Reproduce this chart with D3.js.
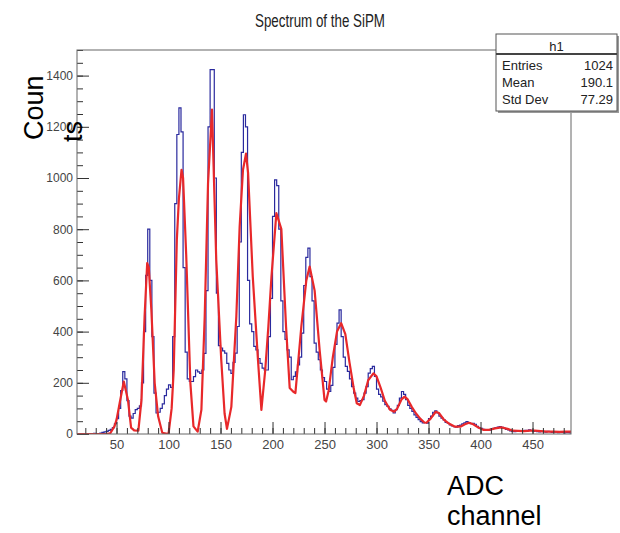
<!DOCTYPE html>
<html>
<head>
<meta charset="utf-8">
<script src="https://cdn.jsdelivr.net/npm/d3@7"></script>
<style>
  body { margin: 0; background: #fff; }
  svg { display: block; }
</style>
</head>
<body>
<svg id="chart" width="620" height="533"></svg>
<script>
// histogram h1: 2-channel bins starting at ADC 12
const binStart = 12;
const binWidth = 2;
const counts = [
  0, 0, 1, 0, 0, 2, 0, 0, 3, 1,
  2, 4, 6, 8, 10, 14, 18, 25, 40, 60,
  100, 170, 244, 215, 130, 70, 62, 80, 95, 100,
  110, 200, 400, 620, 800, 600, 380, 160, 82, 85,
  100, 118, 150, 175, 192, 182, 380, 900, 1170, 1274,
  1180, 650, 320, 215, 205, 205, 224, 250, 243, 237,
  250, 315, 560, 1200, 1423, 1423, 1000, 550, 345, 336,
  325, 316, 276, 250, 237, 280, 316, 420, 750, 1100,
  1247, 1200, 600, 430, 400, 342, 329, 295, 276, 257,
  250, 250, 380, 530, 850, 993, 970, 800, 520, 400,
  370, 329, 300, 212, 225, 243, 270, 300, 394, 580,
  690, 726, 615, 520, 355, 320, 290, 250, 220, 205,
  175, 166, 190, 260, 350, 433, 485, 380, 300, 264,
  245, 215, 185, 160, 140, 127, 130, 134, 160, 185,
  238, 255, 264, 225, 175, 155, 145, 128, 115, 108,
  98, 92, 82, 95, 112, 140, 166, 155, 134, 112,
  100, 88, 75, 65, 56, 48, 43, 45, 42, 60,
  70, 85, 90, 82, 70, 62, 55, 45, 42, 36,
  32, 29, 27, 33, 35, 40, 44, 48, 45, 40,
  42, 38, 30, 24, 22, 18, 16, 17, 15, 20,
  22, 25, 27, 29, 26, 22, 18, 16, 12, 10,
  9, 11, 13, 12, 10, 14, 12, 16, 14, 10,
  12, 9, 8, 10, 9, 7, 10, 9, 6, 8,
  7, 5, 8, 6, 4, 6, 5, 4
];

// fitted curve (red)
const fitX = [12, 40, 44, 48, 50, 53, 57, 61, 64, 67, 71, 74, 77, 79.5, 81, 83.5, 86.7, 90, 94, 100,
  103, 105, 108, 110, 112.5, 114, 117, 121, 124, 128, 131.6, 134.8, 138, 141.8, 145.9, 150.7, 153.9, 156.2, 160.4, 165.2,
  168.4, 171.6, 174.5, 176.5, 181, 186, 189.3, 193, 196, 199, 203.7, 208.5, 213, 216.5, 220, 222, 227.7, 232.5, 235.7, 240.5,
  245.3, 250, 251.5, 254, 258, 262, 266, 270, 274, 278, 281, 284, 288, 292, 297, 300, 304, 308, 313, 317,
  320, 324, 327, 330, 334, 338, 342, 346, 348, 352, 357, 360, 365, 370, 375, 381, 385, 389, 393, 398,
  403, 408, 414, 420, 426, 431, 436, 442, 448, 452, 458, 464, 470, 476, 482, 487];
const fitY = [0, 0, 3, 30, 55, 120, 205, 133, 25, 14, 13, 133, 459, 668, 650, 485, 199, 69, 5, 0,
  100, 250, 760, 920, 1032, 1000, 700, 200, 30, 9, 94, 459, 980, 1267, 680, 290, 80, 20, 106, 459,
  810, 1032, 1095, 1020, 615, 290, 94, 250, 420, 615, 863, 800, 420, 180, 165, 160, 420, 600, 654, 560,
  328, 133, 127, 170, 300, 400, 433, 390, 280, 180, 120, 113, 150, 210, 237, 225, 180, 130, 95, 87,
  100, 135, 146, 135, 105, 80, 60, 45, 44, 60, 87, 82, 55, 40, 29, 29, 38, 44, 38, 25,
  16, 16, 22, 26, 20, 13, 12, 11, 13, 13, 11, 9, 9, 8, 9, 9];

const xDomain = [12, 487];
const yDomain = [0, 1500];
const xTicks = [50, 100, 150, 200, 250, 300, 350, 400, 450];
const yTicks = [0, 200, 400, 600, 800, 1000, 1200, 1400];
const statLabels = ["Entries", "Mean", "Std Dev"];
const statValues = ["1024", "190.1", "77.29"];

const narrow = "'Liberation Sans Narrow', 'Arial Narrow', 'Liberation Sans', sans-serif";
const svg = d3.select("#chart");
const frame = { left: 77, right: 571, top: 50, bottom: 434 };

const x = d3.scaleLinear().domain(xDomain).range([frame.left, frame.right]);
const y = d3.scaleLinear().domain(yDomain).range([frame.bottom, frame.top]);

svg.append("clipPath").attr("id", "clip")
  .append("rect")
  .attr("x", frame.left).attr("y", frame.top)
  .attr("width", frame.right - frame.left).attr("height", frame.bottom - frame.top);

// histogram as steps
const pts = counts.map((c, i) => [binStart + i * binWidth, c]);
pts.push([binStart + counts.length * binWidth, counts[counts.length - 1]]);
svg.append("path")
  .attr("clip-path", "url(#clip)")
  .attr("d", d3.line().x(d => x(d[0])).y(d => y(d[1])).curve(d3.curveStepAfter)(pts))
  .attr("fill", "none")
  .attr("stroke", "#2a2a9e")
  .attr("stroke-width", 1.2);

// fit
svg.append("path")
  .attr("clip-path", "url(#clip)")
  .attr("d", d3.line().x((d, i) => x(fitX[i])).y(d => y(d))(fitY))
  .attr("fill", "none")
  .attr("stroke", "#e8282a")
  .attr("stroke-width", 2.2)
  .attr("stroke-linejoin", "round");

// axes, ticks drawn inside frame like ROOT
function styleAxis(g) {
  g.select(".domain").remove();
  g.selectAll("line").attr("stroke", "#333");
  g.selectAll("text").attr("fill", "#444").style("font-family", narrow);
}

svg.append("g")
  .attr("transform", `translate(0,${frame.bottom})`)
  .call(d3.axisBottom(x).tickValues(d3.range(20, 487, 10)).tickSizeInner(-6).tickFormat(""))
  .call(styleAxis);
svg.append("g")
  .attr("transform", `translate(0,${frame.bottom})`)
  .call(d3.axisBottom(x).tickValues(xTicks).tickSizeInner(-12).tickPadding(6).tickFormat(d3.format("d")))
  .call(styleAxis)
  .selectAll("text").style("font-size", "13px");

svg.append("g")
  .attr("transform", `translate(${frame.left},0)`)
  .call(d3.axisLeft(y).tickValues(d3.range(0, 1501, 50)).tickSizeInner(-6).tickFormat(""))
  .call(styleAxis);
svg.append("g")
  .attr("transform", `translate(${frame.left},0)`)
  .call(d3.axisLeft(y).tickValues(yTicks).tickSizeInner(-12).tickPadding(4).tickFormat(d3.format("d")))
  .call(styleAxis)
  .selectAll("text").style("font-size", "12px");

// frame
svg.append("rect")
  .attr("x", frame.left).attr("y", frame.top)
  .attr("width", frame.right - frame.left).attr("height", frame.bottom - frame.top)
  .attr("fill", "none").attr("stroke", "#666");

// title
svg.append("text")
  .attr("x", 320).attr("y", 27)
  .attr("text-anchor", "middle")
  .attr("textLength", 130).attr("lengthAdjust", "spacingAndGlyphs")
  .style("font-family", narrow).style("font-size", "18px")
  .attr("fill", "#222")
  .text("Spectrum of the SiPM");

// stats box
const box = svg.append("g").attr("transform", "translate(496,34)");
box.append("rect").attr("x", 2).attr("y", 2).attr("width", 121).attr("height", 77).attr("fill", "#999");
box.append("rect").attr("width", 121).attr("height", 77).attr("fill", "#fff").attr("stroke", "#555");
box.append("line").attr("x1", 0).attr("x2", 121).attr("y1", 20).attr("y2", 20).attr("stroke", "#444").attr("stroke-width", 2);
box.append("text").attr("x", 60.5).attr("y", 17).attr("text-anchor", "middle")
  .style("font-family", narrow).style("font-size", "13px").attr("fill", "#222").text("h1");
box.selectAll("text.lab").data(statLabels).enter().append("text")
  .attr("class", "lab")
  .attr("x", 6).attr("y", (d, i) => 36 + i * 17)
  .style("font-family", narrow).style("font-size", "13px").attr("fill", "#222")
  .text(d => d);
box.selectAll("text.val").data(statValues).enter().append("text")
  .attr("class", "val")
  .attr("x", 117).attr("y", (d, i) => 36 + i * 17)
  .attr("text-anchor", "end")
  .style("font-family", narrow).style("font-size", "13px").attr("fill", "#222")
  .text(d => d);

// axis titles, split like the original
const big = "'Liberation Sans', Arial, sans-serif";
svg.append("text").attr("transform", "translate(43,140) rotate(-90)")
  .style("font-family", big).style("font-size", "27px").attr("fill", "#000").text("Coun");
svg.append("text").attr("transform", "translate(82,142) rotate(-90)")
  .style("font-family", big).style("font-size", "27px").attr("fill", "#000").text("ts");
svg.append("text").attr("x", 447).attr("y", 495)
  .style("font-family", big).style("font-size", "27px").attr("fill", "#000").text("ADC");
svg.append("text").attr("x", 447).attr("y", 525)
  .style("font-family", big).style("font-size", "27px").attr("fill", "#000").text("channel");
</script>
</body>
</html>
